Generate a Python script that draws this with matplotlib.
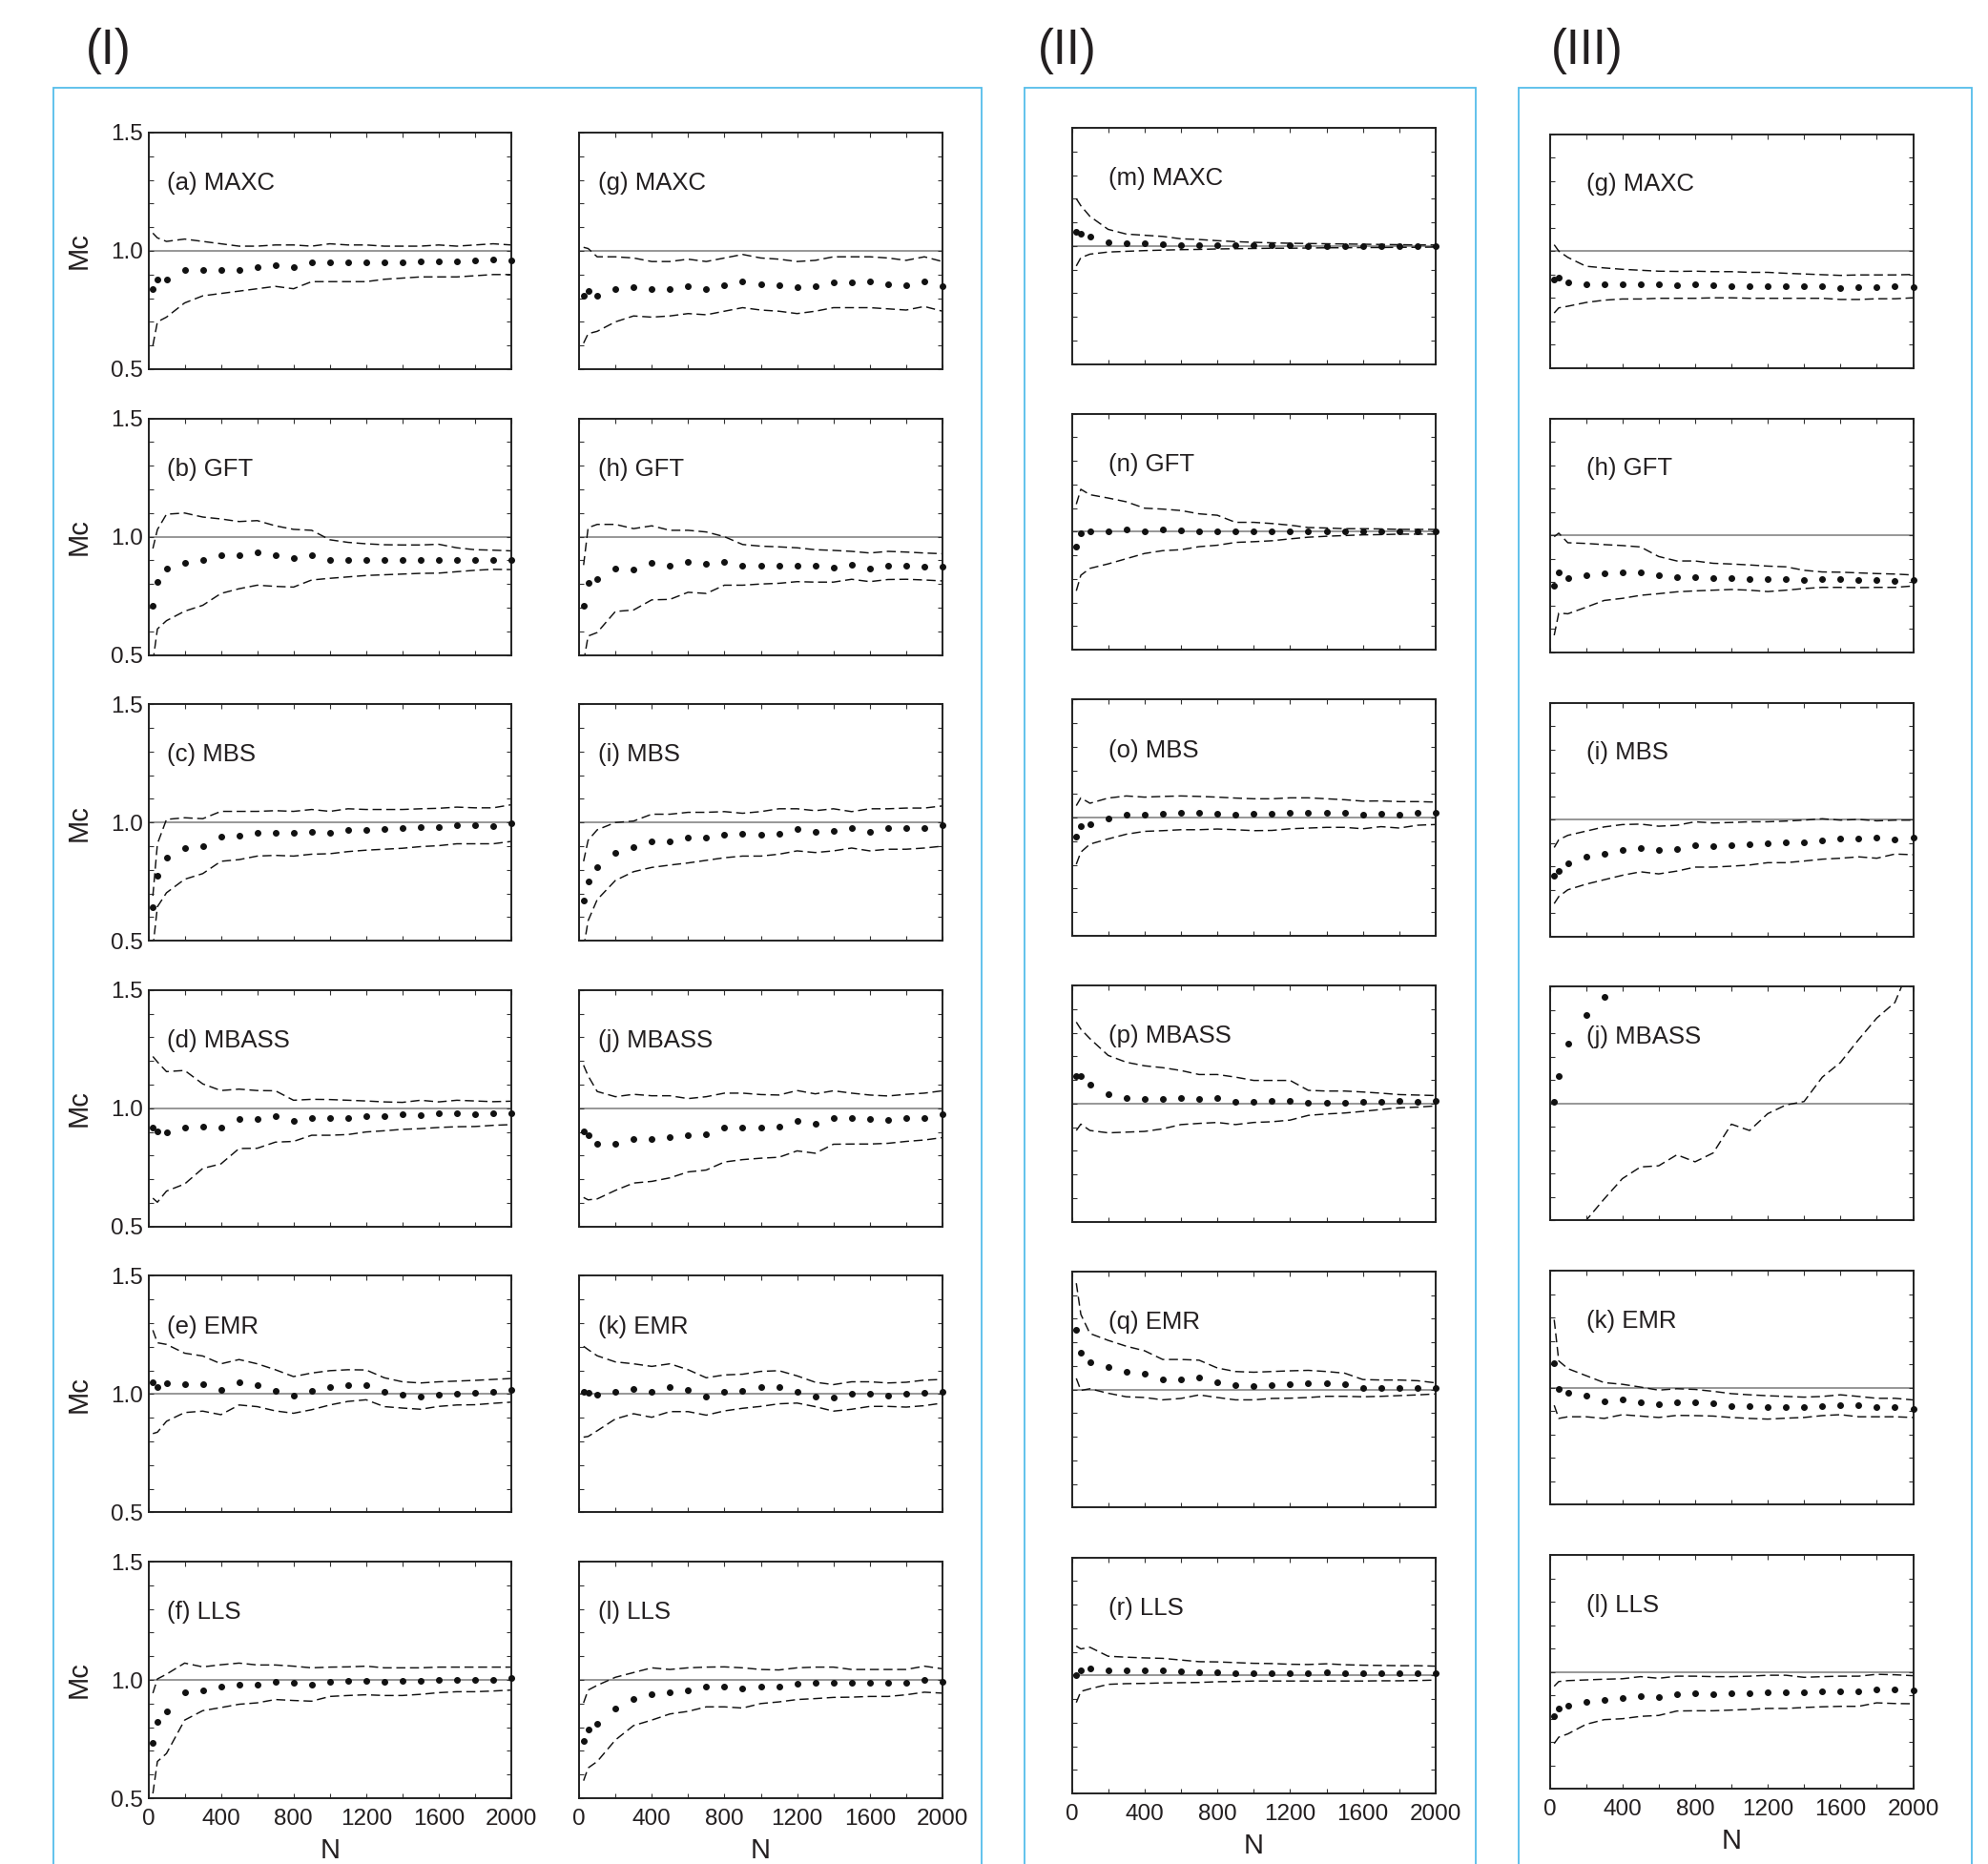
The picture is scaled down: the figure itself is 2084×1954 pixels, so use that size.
import matplotlib
matplotlib.use('Agg')
import matplotlib.pyplot as plt
import numpy as np
from matplotlib.patches import Rectangle

plt.rcParams['font.family'] = ['Liberation Sans', 'DejaVu Sans']

nan = float('nan')
N = [25, 50, 100, 200, 300, 400, 500, 600, 700, 800, 900, 1000,
     1100, 1200, 1300, 1400, 1500, 1600, 1700, 1800, 1900, 2000]

# ---- Column (I), left ----
a_mid = [0.84,0.88,0.88,0.92,0.92,0.92,0.92,0.93,0.94,0.93,0.95,0.95,0.95,0.95,0.95,0.95,0.955,0.955,0.955,0.96,0.965,0.96]
a_up = [1.075,1.055,1.04,1.05,1.04,1.03,1.02,1.02,1.025,1.025,1.02,1.03,1.025,1.025,1.02,1.02,1.02,1.025,1.02,1.025,1.03,1.025]
a_lo = [0.60,0.70,0.72,0.78,0.81,0.82,0.83,0.84,0.85,0.84,0.87,0.87,0.87,0.87,0.88,0.885,0.89,0.89,0.89,0.895,0.90,0.90]
b_mid = [0.71,0.81,0.865,0.89,0.9,0.92,0.92,0.935,0.92,0.91,0.92,0.9,0.9,0.9,0.9,0.9,0.9,0.9,0.9,0.9,0.9,0.9]
b_up = [0.95,1.03,1.095,1.1,1.083,1.075,1.064,1.068,1.046,1.031,1.027,0.987,0.976,0.97,0.966,0.965,0.965,0.968,0.953,0.945,0.943,0.94]
b_lo = [0.47,0.61,0.645,0.685,0.71,0.76,0.78,0.795,0.79,0.787,0.817,0.824,0.83,0.836,0.839,0.842,0.845,0.846,0.852,0.858,0.862,0.861]
c_mid = [0.64,0.775,0.85,0.89,0.9,0.94,0.945,0.955,0.957,0.955,0.962,0.957,0.969,0.969,0.972,0.976,0.979,0.979,0.987,0.987,0.984,0.996]
c_up = [0.69,0.91,1.013,1.02,1.016,1.047,1.047,1.047,1.05,1.047,1.055,1.047,1.058,1.055,1.055,1.055,1.058,1.06,1.065,1.062,1.062,1.075]
c_lo = [0.47,0.644,0.703,0.76,0.784,0.836,0.843,0.858,0.861,0.858,0.866,0.868,0.877,0.883,0.887,0.891,0.898,0.902,0.91,0.91,0.91,0.92]
d_mid = [0.919,0.901,0.897,0.919,0.923,0.919,0.956,0.953,0.968,0.945,0.96,0.96,0.96,0.966,0.966,0.973,0.97,0.978,0.978,0.975,0.981,0.98]
d_up = [1.219,1.196,1.155,1.16,1.103,1.075,1.081,1.075,1.074,1.034,1.038,1.037,1.034,1.031,1.027,1.025,1.034,1.027,1.034,1.031,1.028,1.03]
d_lo = [0.62,0.603,0.65,0.68,0.746,0.765,0.83,0.831,0.857,0.86,0.886,0.886,0.889,0.9,0.905,0.911,0.914,0.919,0.922,0.923,0.928,0.931]
e_mid = [1.052,1.028,1.047,1.043,1.043,1.018,1.05,1.037,1.013,0.993,1.013,1.03,1.037,1.037,1.01,0.999,0.991,0.999,1.003,1.006,1.01,1.016]
e_up = [1.27,1.217,1.21,1.173,1.161,1.128,1.146,1.128,1.103,1.074,1.089,1.099,1.103,1.102,1.069,1.052,1.047,1.052,1.055,1.058,1.062,1.066]
e_lo = [0.833,0.839,0.885,0.922,0.928,0.913,0.954,0.947,0.929,0.919,0.934,0.954,0.969,0.976,0.947,0.941,0.936,0.948,0.954,0.955,0.961,0.966]
f_mid = [0.733,0.823,0.867,0.948,0.957,0.973,0.981,0.981,0.991,0.987,0.981,0.991,0.995,0.997,0.991,0.995,0.997,1.0,1.001,1.0,1.0,1.007]
f_up = [0.944,1.004,1.024,1.071,1.055,1.064,1.071,1.063,1.063,1.058,1.051,1.054,1.055,1.058,1.051,1.051,1.051,1.054,1.054,1.054,1.054,1.054]
f_lo = [0.52,0.655,0.689,0.83,0.87,0.883,0.897,0.903,0.917,0.913,0.91,0.93,0.934,0.937,0.934,0.934,0.939,0.946,0.95,0.95,0.953,0.957]

# ---- Column (I), right ----
g_mid = [0.81,0.83,0.81,0.84,0.845,0.84,0.84,0.85,0.84,0.855,0.87,0.86,0.855,0.845,0.85,0.865,0.865,0.87,0.86,0.855,0.87,0.85]
g_up = [1.015,1.01,0.975,0.975,0.97,0.955,0.955,0.965,0.955,0.97,0.985,0.97,0.965,0.955,0.96,0.975,0.975,0.975,0.97,0.96,0.975,0.955]
g_lo = [0.61,0.65,0.66,0.70,0.725,0.72,0.725,0.735,0.73,0.745,0.76,0.75,0.745,0.735,0.745,0.76,0.76,0.76,0.755,0.75,0.765,0.745]
h_mid = [0.71,0.805,0.82,0.865,0.86,0.89,0.877,0.895,0.886,0.895,0.877,0.877,0.877,0.877,0.877,0.87,0.88,0.867,0.877,0.877,0.873,0.873]
h_up = [0.88,1.038,1.052,1.052,1.034,1.046,1.027,1.027,1.02,1.0,0.967,0.96,0.957,0.953,0.945,0.942,0.938,0.931,0.938,0.935,0.931,0.928]
h_lo = [0.47,0.58,0.595,0.684,0.69,0.733,0.735,0.765,0.76,0.795,0.795,0.8,0.803,0.81,0.808,0.808,0.82,0.81,0.819,0.82,0.817,0.813]
i_mid = [0.669,0.75,0.81,0.872,0.895,0.922,0.92,0.936,0.936,0.947,0.954,0.947,0.954,0.972,0.961,0.964,0.975,0.961,0.975,0.975,0.976,0.988]
i_up = [0.836,0.925,0.969,1.0,1.006,1.035,1.035,1.043,1.043,1.046,1.039,1.046,1.058,1.058,1.05,1.058,1.046,1.058,1.058,1.061,1.061,1.07]
i_lo = [0.47,0.585,0.674,0.755,0.792,0.81,0.82,0.829,0.84,0.851,0.858,0.858,0.866,0.88,0.873,0.88,0.892,0.88,0.887,0.887,0.892,0.9]
j_mid = [0.901,0.886,0.849,0.849,0.871,0.871,0.879,0.886,0.89,0.919,0.92,0.92,0.923,0.948,0.936,0.957,0.957,0.953,0.951,0.957,0.96,0.975]
j_up = [1.182,1.137,1.071,1.049,1.059,1.053,1.053,1.041,1.049,1.064,1.064,1.058,1.056,1.075,1.061,1.074,1.064,1.056,1.052,1.059,1.064,1.074]
j_lo = [0.623,0.613,0.617,0.653,0.684,0.691,0.706,0.731,0.739,0.773,0.783,0.789,0.793,0.82,0.81,0.848,0.849,0.849,0.852,0.86,0.866,0.876]
k_mid = [1.01,1.006,0.999,1.01,1.022,1.01,1.03,1.016,0.991,1.01,1.013,1.028,1.03,1.01,0.991,0.987,1.0,1.0,0.994,1.0,1.007,1.01]
k_up = [1.202,1.188,1.162,1.136,1.128,1.117,1.128,1.103,1.069,1.081,1.084,1.096,1.099,1.077,1.05,1.04,1.052,1.052,1.047,1.05,1.059,1.062]
k_lo = [0.818,0.821,0.845,0.895,0.917,0.902,0.926,0.926,0.911,0.929,0.94,0.948,0.959,0.962,0.947,0.928,0.936,0.948,0.948,0.945,0.951,0.962]
l_mid = [0.742,0.792,0.813,0.879,0.919,0.941,0.949,0.957,0.97,0.97,0.964,0.973,0.973,0.984,0.988,0.988,0.987,0.987,0.987,0.987,1.0,0.993]
l_up = [0.903,0.957,0.977,1.011,1.031,1.051,1.044,1.051,1.054,1.055,1.051,1.044,1.042,1.051,1.054,1.054,1.044,1.044,1.044,1.044,1.058,1.047]
l_lo = [0.574,0.628,0.655,0.746,0.807,0.83,0.856,0.867,0.886,0.886,0.881,0.9,0.907,0.917,0.921,0.926,0.927,0.93,0.93,0.937,0.948,0.944]

# ---- Column (II) ----
m_mid = [1.06,1.05,1.04,1.015,1.01,1.013,1.007,1.005,1.005,1.004,1.003,1.002,1.002,1.002,1.001,1.001,1.0,1.0,1.0,1.0,1.0,1.0]
m_up = [1.2,1.17,1.125,1.07,1.05,1.045,1.04,1.03,1.027,1.022,1.018,1.015,1.013,1.011,1.01,1.009,1.008,1.007,1.006,1.005,1.004,1.004]
m_lo = [0.915,0.95,0.965,0.974,0.977,0.98,0.982,0.984,0.985,0.987,0.988,0.989,0.99,0.99,0.991,0.992,0.992,0.993,0.993,0.994,0.994,0.995]
n_mid = [0.936,0.995,1.0,1.002,1.01,1.003,1.01,1.005,1.002,1.002,1.0,1.0,1.0,1.0,1.0,1.0,1.0,1.0,1.0,1.0,1.0,1.0]
n_up = [1.117,1.18,1.157,1.143,1.127,1.1,1.096,1.09,1.076,1.07,1.04,1.04,1.035,1.028,1.018,1.016,1.013,1.013,1.012,1.01,1.01,1.01]
n_lo = [0.75,0.816,0.845,0.864,0.886,0.908,0.92,0.924,0.937,0.943,0.955,0.958,0.962,0.97,0.977,0.981,0.984,0.987,0.988,0.99,0.99,0.99]
o_mid = [0.92,0.964,0.971,0.996,1.012,1.012,1.017,1.022,1.022,1.017,1.012,1.015,1.015,1.02,1.02,1.02,1.02,1.012,1.017,1.012,1.02,1.019]
o_up = [1.051,1.084,1.061,1.083,1.092,1.087,1.09,1.092,1.09,1.087,1.083,1.08,1.08,1.084,1.084,1.08,1.076,1.07,1.071,1.068,1.068,1.066]
o_lo = [0.803,0.854,0.888,0.91,0.93,0.942,0.945,0.949,0.949,0.952,0.949,0.945,0.946,0.953,0.956,0.959,0.959,0.953,0.962,0.956,0.968,0.971]
p_mid = [1.115,1.115,1.081,1.041,1.025,1.019,1.021,1.025,1.018,1.022,1.007,1.007,1.012,1.012,1.004,1.004,1.004,1.007,1.007,1.01,1.007,1.01]
p_up = [1.345,1.315,1.275,1.204,1.175,1.16,1.152,1.14,1.123,1.123,1.112,1.098,1.098,1.098,1.056,1.053,1.053,1.049,1.044,1.038,1.036,1.034]
p_lo = [0.886,0.913,0.886,0.876,0.879,0.882,0.893,0.911,0.916,0.92,0.911,0.92,0.923,0.93,0.95,0.956,0.96,0.967,0.975,0.982,0.985,0.99]
q_mid = [1.252,1.154,1.117,1.095,1.076,1.067,1.042,1.044,1.05,1.029,1.018,1.015,1.018,1.021,1.025,1.028,1.022,1.007,1.007,1.007,1.007,1.007]
q_up = [1.45,1.318,1.237,1.208,1.183,1.164,1.127,1.127,1.124,1.091,1.076,1.073,1.076,1.079,1.081,1.076,1.069,1.042,1.04,1.04,1.037,1.028]
q_lo = [1.047,0.996,1.003,0.984,0.969,0.966,0.956,0.962,0.977,0.966,0.956,0.956,0.962,0.963,0.966,0.971,0.971,0.969,0.971,0.974,0.977,0.981]
r_mid = [1.0,1.02,1.031,1.023,1.023,1.023,1.02,1.018,1.014,1.014,1.011,1.011,1.011,1.009,1.011,1.014,1.011,1.011,1.011,1.011,1.011,1.009]
r_up = [1.124,1.112,1.119,1.081,1.077,1.074,1.072,1.065,1.058,1.057,1.054,1.051,1.05,1.047,1.046,1.049,1.045,1.043,1.042,1.041,1.041,1.039]
r_lo = [0.885,0.932,0.943,0.962,0.965,0.966,0.968,0.969,0.97,0.973,0.974,0.976,0.976,0.976,0.976,0.976,0.976,0.976,0.977,0.977,0.978,0.98]

# ---- Column (III) ----
g3_mid = [0.88,0.885,0.865,0.857,0.857,0.857,0.857,0.857,0.853,0.857,0.853,0.85,0.85,0.85,0.85,0.85,0.85,0.843,0.846,0.846,0.848,0.846]
g3_up = [1.027,1.0,0.973,0.935,0.928,0.922,0.918,0.914,0.913,0.914,0.912,0.912,0.909,0.909,0.905,0.902,0.899,0.896,0.898,0.898,0.898,0.9]
g3_lo = [0.735,0.757,0.764,0.78,0.79,0.795,0.795,0.798,0.798,0.798,0.8,0.8,0.798,0.798,0.798,0.798,0.798,0.793,0.793,0.796,0.796,0.8]
h3_mid = [0.784,0.84,0.817,0.828,0.839,0.843,0.843,0.827,0.82,0.821,0.818,0.818,0.814,0.814,0.814,0.81,0.811,0.811,0.81,0.807,0.806,0.807]
h3_up = [0.994,1.009,0.968,0.965,0.96,0.956,0.95,0.909,0.89,0.89,0.88,0.877,0.873,0.868,0.865,0.85,0.843,0.842,0.839,0.836,0.834,0.83]
h3_lo = [0.572,0.667,0.664,0.692,0.721,0.73,0.743,0.75,0.758,0.762,0.765,0.768,0.765,0.759,0.765,0.772,0.777,0.777,0.776,0.777,0.777,0.783]
i3_mid = [0.761,0.779,0.811,0.84,0.852,0.869,0.878,0.869,0.875,0.891,0.886,0.891,0.894,0.898,0.904,0.904,0.91,0.917,0.917,0.921,0.913,0.924]
i3_up = [0.88,0.913,0.932,0.95,0.968,0.978,0.98,0.971,0.975,0.99,0.985,0.987,0.99,0.99,0.993,0.997,1.003,0.997,1.0,0.994,0.997,0.997]
i3_lo = [0.64,0.67,0.699,0.723,0.742,0.761,0.776,0.767,0.779,0.796,0.796,0.8,0.805,0.815,0.815,0.822,0.83,0.834,0.84,0.834,0.852,0.849]
j3_mid = [1.006,1.12,1.257,1.378,1.455,nan,nan,nan,nan,nan,nan,nan,nan,nan,nan,nan,nan,nan,nan,nan,nan,nan]
j3_up = None
j3_lo = [nan,nan,0.40,0.5,0.592,0.679,0.729,0.734,0.781,0.751,0.789,0.912,0.885,0.957,0.994,1.009,1.113,1.176,1.274,1.366,1.433,1.62]
k3_mid = [1.104,0.996,0.978,0.966,0.943,0.952,0.939,0.928,0.94,0.937,0.933,0.922,0.921,0.918,0.918,0.918,0.921,0.927,0.924,0.918,0.918,0.91]
k3_up = [1.291,1.115,1.082,1.052,1.022,1.015,1.003,0.99,0.996,0.993,0.985,0.975,0.97,0.966,0.963,0.96,0.963,0.97,0.963,0.955,0.955,0.948]
k3_lo = [0.925,0.869,0.876,0.876,0.869,0.885,0.879,0.873,0.882,0.881,0.879,0.873,0.869,0.866,0.87,0.873,0.881,0.885,0.876,0.876,0.876,0.873]
l3_mid = [0.812,0.844,0.857,0.871,0.882,0.887,0.898,0.891,0.905,0.907,0.905,0.907,0.909,0.914,0.914,0.912,0.916,0.917,0.918,0.925,0.925,0.922]
l3_up = [0.939,0.959,0.963,0.966,0.969,0.971,0.98,0.973,0.982,0.982,0.98,0.98,0.982,0.986,0.986,0.977,0.98,0.982,0.982,0.99,0.988,0.984]
l3_lo = [0.694,0.721,0.735,0.776,0.796,0.8,0.81,0.814,0.833,0.834,0.834,0.837,0.84,0.844,0.844,0.848,0.851,0.853,0.853,0.868,0.865,0.864]

labels_col = [
    ['(a) MAXC', '(b) GFT', '(c) MBS', '(d) MBASS', '(e) EMR', '(f) LLS'],
    ['(g) MAXC', '(h) GFT', '(i) MBS', '(j) MBASS', '(k) EMR', '(l) LLS'],
    ['(m) MAXC', '(n) GFT', '(o) MBS', '(p) MBASS', '(q) EMR', '(r) LLS'],
    ['(g) MAXC', '(h) GFT', '(i) MBS', '(j) MBASS', '(k) EMR', '(l) LLS'],
]
series_col = [
    [(a_mid, a_up, a_lo), (b_mid, b_up, b_lo), (c_mid, c_up, c_lo),
     (d_mid, d_up, d_lo), (e_mid, e_up, e_lo), (f_mid, f_up, f_lo)],
    [(g_mid, g_up, g_lo), (h_mid, h_up, h_lo), (i_mid, i_up, i_lo),
     (j_mid, j_up, j_lo), (k_mid, k_up, k_lo), (l_mid, l_up, l_lo)],
    [(m_mid, m_up, m_lo), (n_mid, n_up, n_lo), (o_mid, o_up, o_lo),
     (p_mid, p_up, p_lo), (q_mid, q_up, q_lo), (r_mid, r_up, r_lo)],
    [(g3_mid, g3_up, g3_lo), (h3_mid, h3_up, h3_lo), (i3_mid, i3_up, i3_lo),
     (j3_mid, j3_up, j3_lo), (k3_mid, k3_up, k3_lo), (l3_mid, l3_up, l3_lo)],
]

xtick_vals = list(range(0, 2001, 200))
xtick_lab = [str(v) if v % 400 == 0 else '' for v in xtick_vals]
ytick_vals = [0.5, 0.6, 0.7, 0.8, 0.9, 1.0, 1.1, 1.2, 1.3, 1.4, 1.5]
ytick_lab = ['0.5', '', '', '', '', '1.0', '', '', '', '', '1.5']

W, H = 2084, 1954
fig = plt.figure(figsize=(W / 100, H / 100), dpi=100)

# geometry in pixels: left, width, first top, row pitch, height
geom = [
    (155.5, 380.5, 139.0, 299.6, 248.0),
    (607.0, 381.0, 139.0, 299.6, 248.0),
    (1123.5, 381.5, 134.0, 299.7, 247.5),
    (1624.5, 381.0, 140.7, 297.9, 245.0),
]
INK = '#231f20'

for c in range(4):
    L, Wd, T0, P, Hh = geom[c]
    for r in range(6):
        top = T0 + r * P
        ax = fig.add_axes([L / W, 1 - (top + Hh) / H, Wd / W, Hh / H])
        mid, up, lo = series_col[c][r]
        ax.axhline(1.0, color='#7a7a7a', lw=1.1, zorder=1)
        for s in (up, lo):
            if s is not None:
                ax.plot(N, s, color='#111111', lw=1.05, ls=(0, (6.5, 3.3)), zorder=2)
        ax.plot(N, mid, 'o', ms=4.0, color='#111111', mec='#111111',
                clip_on=False, zorder=3)
        ax.set_xlim(0, 2000)
        ax.set_ylim(0.5, 1.5)
        ax.set_xticks(xtick_vals)
        ax.set_yticks(ytick_vals)
        if r == 5:
            ax.set_xticklabels(xtick_lab)
        else:
            ax.set_xticklabels([])
        if c == 0:
            ax.set_yticklabels(ytick_lab)
        else:
            ax.set_yticklabels([])
        ax.tick_params(direction='in', top=True, right=True, length=3.3,
                       width=0.8, labelsize=17.5, colors='#333333',
                       labelcolor=INK)
        ax.tick_params(axis='x', pad=8)
        ax.tick_params(axis='y', pad=4)
        for sp in ax.spines.values():
            sp.set_linewidth(1.4)
            sp.set_color('#222222')
        tx = 0.052 if c < 2 else 0.10
        ax.text(tx, 0.757, labels_col[c][r], transform=ax.transAxes,
                fontsize=18.5, color=INK, ha='left', va='baseline')
        if c == 0:
            fig.text(83 / W, 1 - (top + Hh / 2) / H, 'Mc', rotation=90,
                     fontsize=21, color=INK, ha='center', va='center')
    # N label
    ny = {0: 1940, 1: 1940, 2: 1935, 3: 1930}[c]
    fig.text((L + Wd / 2) / W, 1 - ny / H, 'N', fontsize=21, color=INK,
             ha='center', va='center')

# light-blue group frames
frame_col = '#55BDEA'
for x0, x1 in [(55.8, 1028.7), (1074.0, 1547.0), (1592.0, 2067.0)]:
    fig.add_artist(Rectangle((x0 / W, -0.05), (x1 - x0) / W,
                             1 - 91.7 / H + 0.05, transform=fig.transFigure,
                             fill=False, ec=frame_col, lw=1.3))

for txt, x in [('(I)', 114), ('(II)', 1119), ('(III)', 1664)]:
    fig.text(x / W, 1 - 54 / H, txt, fontsize=36.5, color=INK,
             ha='center', va='center')

fig.savefig('out.png', dpi=100)
